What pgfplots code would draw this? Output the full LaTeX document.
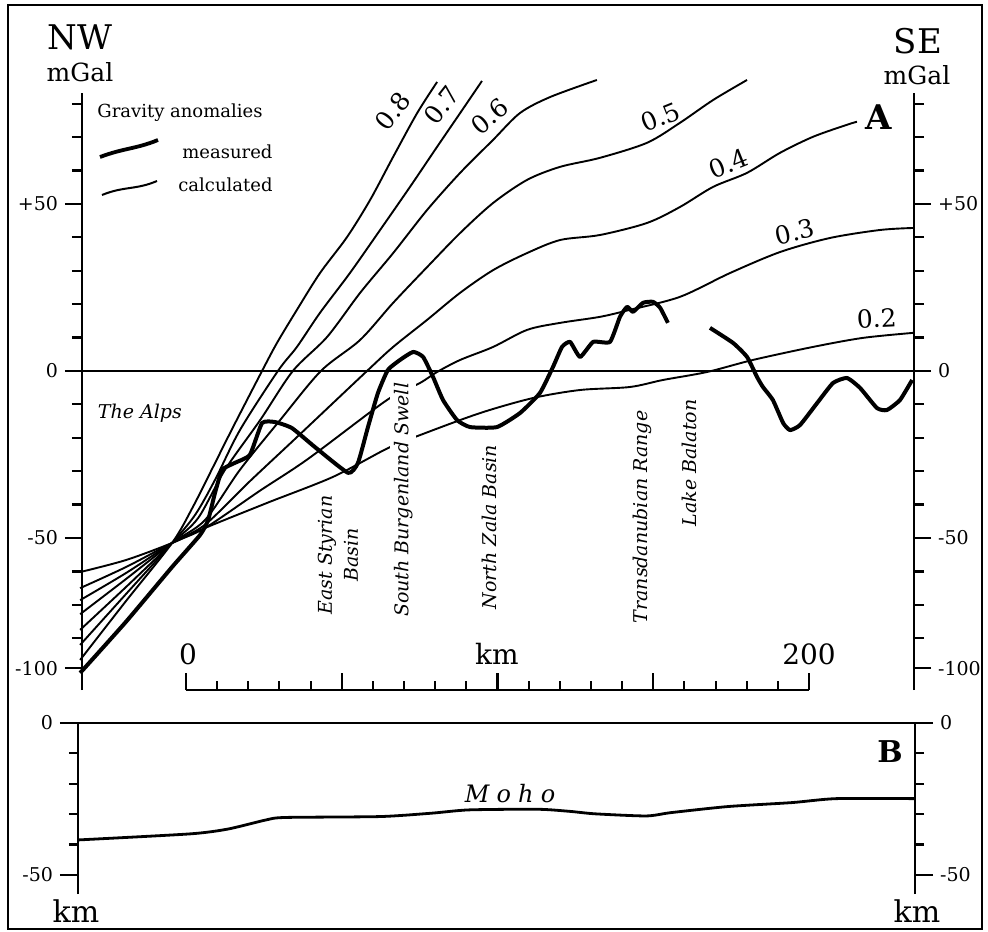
\documentclass[border=0pt]{standalone}
\usepackage{pgfplots}
\pgfplotsset{compat=1.18}
\usepackage{fontspec}
\setmainfont{DejaVu Serif}

\pgfplotstableread{
x y
-34.0 -90.4
-19.3 -75.1
-4.5 -58.7
4.5 -49.1
7.1 -44.6
9.3 -36.5
11.6 -29.6
15.7 -27.5
20.5 -25.1
24.4 -15.6
28.6 -15.3
34.0 -17.1
41.4 -22.8
52.0 -30.5
55.2 -27.5
58.4 -16.8
61.6 -6.6
64.8 0.3
68.7 3.3
72.9 5.7
76.1 4.2
79.3 -1.8
82.5 -8.7
87.0 -14.7
91.2 -16.8
99.8 -16.8
107.2 -12.6
113.6 -6.6
117.8 1.2
120.7 7.2
123.3 8.7
126.5 4.2
130.7 8.7
136.1 8.7
139.3 16.2
141.6 19.2
143.5 17.7
146.7 20.4
149.9 20.7
152.2 18.9
154.7 14.4
}\measuredA

\pgfplotstableread{
x y
168.2 12.9
175.6 8.4
180.1 4.2
183.3 -1.8
185.2 -4.8
188.4 -8.7
191.7 -15.6
193.9 -17.7
197.1 -16.2
202.6 -9.6
207.7 -3.6
212.2 -2.1
216.4 -5.1
221.8 -11.1
225.0 -11.7
229.2 -8.7
233.1 -2.7
}\measuredB

\begin{document}
\begin{tikzpicture}
\path (0pt,0pt) rectangle (494pt,-465.5pt);
\draw[line width=0.8pt] (4pt,-2.5pt) rectangle (491pt,-464.5pt);

% ---------------- panel A (left axis with data) ----------------
\begin{axis}[
  at={(41pt,-345pt)}, anchor=south west,
  scale only axis, width=416pt, height=298.5pt,
  xmin=-33.4, xmax=233.7, ymin=-95.5, ymax=83.2,
  axis x line=none, axis y line=left,
  y axis line style={-, line width=1.3pt},
  clip=false,
  ytick={-89,-50,0,50}, yticklabels={-100,-50,0,+50},
  minor ytick={-80,-70,-60,-40,-30,-20,-10,10,20,30,40,60,70,80},
  tick align=outside,
  major tick length=8.5pt, minor tick length=5pt,
  tick style={black, line width=1.1pt},
  yticklabel style={font=\fontsize{9.5}{10}\selectfont},
  calc/.style={black, line width=0.95pt, smooth, tension=0.5},
]
% zero line
\addplot[black, line width=0.9pt] coordinates {(-33.4,0) (233.7,0)};

% calculated anomalies (density contrast)
\addplot[calc] coordinates {(-34.0,-86.5) (-19.3,-68.9) (-4.5,-51.5) (2.2,-40.7) (8.7,-28.7) (15.1,-16.8) (24.4,0) (29.2,8.4) (35.6,18.3) (43.0,29.3) (51.7,40.1) (59.1,51.2) (66.5,64.1) (74.2,77.2) (80.6,86.5)};
\addplot[calc] coordinates {(-34.0,-82.0) (-19.3,-66.8) (-4.5,-51.5) (2.9,-43.1) (9.3,-32.6) (17.3,-17.7) (29.5,0) (35.6,7.2) (43.0,17.4) (52.6,29.3) (62.3,42.2) (71.9,55.1) (80.6,67.1) (88.0,77.2) (95.0,86.8)};
\addplot[calc] coordinates {(-34.0,-77.5) (-19.3,-64.7) (-4.5,-51.5) (3.9,-44.0) (12.5,-29.6) (23.8,-14.7) (34.3,0) (45.3,10.2) (55.9,23.4) (66.5,35.3) (77.4,48.2) (88.0,59.3) (98.6,69.2) (107.2,77.2) (116.9,82.0) (131.9,87.1)};
\addplot[calc] coordinates {(-34.0,-72.8) (-19.3,-62.3) (-4.5,-51.5) (6.1,-44.6) (17.3,-29.6) (30.2,-14.7) (43.3,0) (55.9,9.3) (66.5,20.4) (77.4,31.1) (88.0,41.3) (98.6,50.3) (109.5,57.2) (120.1,61.1) (132.9,63.8) (148.0,68.3) (158.6,74.3) (169.2,81.1) (180.1,87.1)};
\addplot[calc] coordinates {(-34.0,-68.6) (-19.3,-60.5) (-4.5,-51.5) (6.1,-46.0) (20.5,-33.0) (35.6,-19.8) (58.1,0) (66.5,7.2) (77.4,15.3) (88.0,23.4) (98.6,30.2) (109.5,35.3) (120.1,39.2) (132.9,40.7) (148.0,44.3) (158.6,49.1) (169.2,55.1) (180.1,59.3) (190.7,65.3) (201.3,70.1) (212.2,73.7) (215.4,74.6)};
\addplot[calc] coordinates {(-34.0,-65.0) (-19.3,-58.7) (-4.5,-51.5) (6.1,-47.0) (23.8,-35.8) (39.2,-26.3) (64.5,-8.7) (75.1,-3.6) (80.6,-0.3) (88.0,3.3) (98.6,7.2) (109.5,12.3) (120.1,14.4) (132.9,16.2) (142.5,18.3) (158.6,22.2) (174.6,29.3) (190.7,35.6) (206.7,39.8) (222.8,42.2) (233.4,42.8)};
\addplot[calc] coordinates {(-34.0,-60.2) (-19.3,-56.6) (-4.5,-51.5) (6.1,-47.0) (26.0,-39.5) (47.2,-31.7) (64.8,-23.1) (75.1,-19.2) (94.4,-12.6) (111.4,-8.1) (126.5,-5.7) (142.5,-4.8) (153.1,-2.7) (167.3,-0.3) (182.0,3.3) (201.3,7.2) (217.3,9.9) (233.4,11.4)};

% measured anomaly
\addplot[black, line width=2pt, line join=round, smooth, tension=0.3] table[x=x,y=y] {\measuredA};
\addplot[black, line width=2pt, line join=round, smooth, tension=0.3] table[x=x,y=y] {\measuredB};

% scale bar
\addplot[black, line width=1.3pt] coordinates {(0,-95.5) (200,-95.5)};
\pgfplotsinvokeforeach{10,20,30,40,60,70,80,90,110,120,130,140,160,170,180,190}{
  \draw[line width=1pt] (axis cs:#1,-95.5) -- ++(0pt,4.5pt);
}
\pgfplotsinvokeforeach{0,50,100,150,200}{
  \draw[line width=1.2pt] (axis cs:#1,-95.5) -- ++(0pt,8.5pt);
}
\node[font=\fontsize{14}{16}\selectfont] at (axis cs:0.6,-84.7) {0};
\node[font=\fontsize{14}{16}\selectfont] at (axis cs:99.8,-84.7) {km};
\node[font=\fontsize{14}{16}\selectfont] at (axis cs:200,-84.7) {200};

% contour labels
\begin{scope}[every node/.style={font=\fontsize{12.5}{15}\selectfont, inner sep=0pt}]
\node[rotate=52] at (axis cs:66.3,77.8) {0.8};
\node[rotate=52] at (axis cs:82.0,79.6) {0.7};
\node[rotate=40] at (axis cs:97.5,76.2) {0.6};
\node[rotate=22] at (axis cs:152.4,76.0) {0.5};
\node[rotate=22] at (axis cs:174.1,62.2) {0.4};
\node[rotate=13] at (axis cs:195.5,41.6) {0.3};
\node[rotate=3] at (axis cs:221.7,15.8) {0.2};
\end{scope}
\node[font=\fontsize{17}{19}\selectfont\bfseries] at (axis cs:222.5,76.1) {A};

% geographic names
\begin{scope}[every node/.style={font=\fontsize{9.5}{13}\selectfont\itshape}]
\node at (axis cs:-14.8,-12.6) {The Alps};
\node[rotate=90, align=center] at (axis cs:48.8,-55.1) {East Styrian\\Basin};
\node[rotate=90, fill=white, inner sep=2pt] at (axis cs:69.7,-38.6) {South Burgenland Swell};
\node[rotate=90] at (axis cs:97.3,-46.7) {North Zala Basin};
\node[rotate=90] at (axis cs:146.4,-43.7) {Transdanubian Range};
\node[rotate=90] at (axis cs:161.5,-27.5) {Lake Balaton};
\end{scope}
\end{axis}

% ---------------- panel A (right axis) ----------------
\begin{axis}[
  at={(41pt,-345pt)}, anchor=south west,
  scale only axis, width=416pt, height=298.5pt,
  xmin=-33.4, xmax=233.7, ymin=-95.5, ymax=83.2,
  axis x line=none, axis y line=right,
  y axis line style={-, line width=1.3pt},
  ytick={-89,-50,0,50}, yticklabels={-100,-50,0,+50},
  minor ytick={-80,-70,-60,-40,-30,-20,-10,10,20,30,40,60,70,80},
  tick align=outside,
  major tick length=8.5pt, minor tick length=5pt,
  tick style={black, line width=1.1pt},
  yticklabel style={font=\fontsize{9.5}{10}\selectfont},
]
\end{axis}

% ---------------- panel B ----------------
\begin{axis}[
  at={(39pt,-447pt)}, anchor=south west,
  scale only axis, width=418.5pt, height=85.5pt,
  xmin=-34.7, xmax=234.0, ymin=-56.3, ymax=0,
  axis x line=none, axis y line=left,
  y axis line style={-, line width=1.3pt},
  clip=false,
  ytick={-50,0}, yticklabels={-50,0},
  minor ytick={-40,-30,-20,-10},
  tick align=outside,
  major tick length=9pt, minor tick length=4.5pt,
  tick style={black, line width=1.1pt},
  yticklabel style={font=\fontsize{9.5}{10}\selectfont},
]
\addplot[black, line width=1pt] coordinates {(-34.7,0) (234.0,0)};
\addplot[black, line width=1.4pt, smooth, tension=0.4] coordinates {(-34.7,-38.5) (1.3,-36.5) (13.5,-34.9) (25.7,-31.9) (31.8,-31.1) (62.3,-30.8) (78.7,-29.7) (90.9,-28.6) (113.0,-28.4) (123.3,-29.1) (131.3,-29.9) (147.7,-30.6) (155.7,-29.5) (174.0,-27.5) (194.5,-26.2) (208.7,-24.9) (234.0,-24.9)};
\node[font=\fontsize{15}{17}\selectfont\bfseries] at (axis cs:226.0,-9.4) {B};
\node[font=\fontsize{12}{14}\selectfont\itshape] at (axis cs:104.0,-23.2) {M\hspace{0.3em}o\hspace{0.3em}h\hspace{0.3em}o};
\end{axis}
\begin{axis}[
  at={(39pt,-447pt)}, anchor=south west,
  scale only axis, width=418.5pt, height=85.5pt,
  xmin=-34.7, xmax=234.0, ymin=-56.3, ymax=0,
  axis x line=none, axis y line=right,
  y axis line style={-, line width=1.3pt},
  ytick={-50,0}, yticklabels={-50,0},
  minor ytick={-40,-30,-20,-10},
  tick align=outside,
  major tick length=9pt, minor tick length=4.5pt,
  tick style={black, line width=1.1pt},
  yticklabel style={font=\fontsize{9.5}{10}\selectfont},
]
\end{axis}

% ---------------- titles and legend ----------------
\node[font=\fontsize{17}{19}\selectfont] at (40pt,-18.75pt) {NW};
\node[font=\fontsize{12.5}{14}\selectfont] at (40pt,-36pt) {mGal};
\node[font=\fontsize{17}{19}\selectfont] at (459pt,-20.5pt) {SE};
\node[font=\fontsize{12.5}{14}\selectfont] at (458.5pt,-37.5pt) {mGal};
\node[font=\fontsize{9}{11}\selectfont, anchor=west, inner sep=0pt] at (48.5pt,-56.5pt) {Gravity anomalies};
\node[font=\fontsize{9}{11}\selectfont, anchor=west, inner sep=0pt] at (91pt,-76pt) {measured};
\node[font=\fontsize{9}{11}\selectfont, anchor=west, inner sep=0pt] at (89pt,-92.5pt) {calculated};
\draw[line width=1.9pt] (50pt,-78.5pt) .. controls (62pt,-74pt) and (68pt,-74.5pt) .. (79pt,-70pt);
\draw[line width=1pt] (51pt,-97.5pt) .. controls (62pt,-93pt) and (68pt,-95pt) .. (78.5pt,-90.5pt);
\node[font=\fontsize{15}{17}\selectfont] at (38pt,-455.5pt) {km};
\node[font=\fontsize{15}{17}\selectfont] at (458.5pt,-455.5pt) {km};
\end{tikzpicture}
\end{document}
